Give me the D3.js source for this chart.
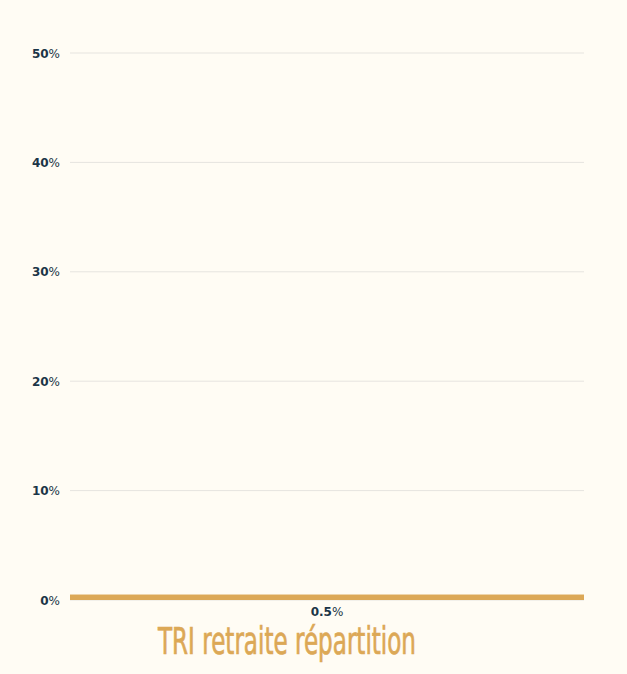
<!DOCTYPE html>
<html>
<head>
<meta charset="utf-8" />
<title>TRI retraite répartition</title>
<style>
html, body {
  margin: 0;
  padding: 0;
  background-color: #fffcf4;
}
svg {
  display: block;
}
</style>
<script src="https://d3js.org/d3.v7.min.js"></script>
</head>
<body>
<script>
// données
var categories = ["TRI retraite répartition"];
var values = [0.5];
var yTicks = [0, 10, 20, 30, 40, 50];

var width = 627, height = 674;
var margin = {top: 53, right: 43, bottom: 74, left: 70};

var svg = d3.select("body").append("svg")
  .attr("width", width)
  .attr("height", height);

var x = d3.scaleBand()
  .domain(categories)
  .range([margin.left, width - margin.right])
  .padding(0);

var y = d3.scaleLinear()
  .domain([0, 50])
  .range([height - margin.bottom, margin.top]);

// grille
svg.append("g")
  .selectAll("line")
  .data(yTicks)
  .join("line")
  .attr("x1", margin.left)
  .attr("x2", width - margin.right)
  .attr("y1", d => y(d))
  .attr("y2", d => y(d))
  .attr("stroke", "#e6e4df")
  .attr("stroke-width", 1);

// labels axe y
var yl = svg.append("g")
  .selectAll("text")
  .data(yTicks)
  .join("text")
  .attr("x", 60)
  .attr("y", d => y(d) + 4.5)
  .attr("text-anchor", "end")
  .attr("font-family", "DejaVu Sans, sans-serif")
  .attr("font-size", "12px")
  .attr("fill", "#1b3547");
yl.append("tspan").attr("font-weight", "bold").text(d => d);
yl.append("tspan").text("%");

// barres
svg.append("g")
  .selectAll("rect")
  .data(values)
  .join("rect")
  .attr("x", (d, i) => x(categories[i]))
  .attr("width", x.bandwidth())
  .attr("y", d => y(d))
  .attr("height", d => y(0) - y(d))
  .attr("fill", "#dca856");

// valeur
var vl = svg.append("g")
  .selectAll("text")
  .data(values)
  .join("text")
  .attr("x", (d, i) => x(categories[i]) + x.bandwidth() / 2)
  .attr("y", y(0) + 15.5)
  .attr("text-anchor", "middle")
  .attr("font-family", "DejaVu Sans, sans-serif")
  .attr("font-size", "12px")
  .attr("fill", "#1b3547");
vl.append("tspan").attr("font-weight", "bold").text(d => d);
vl.append("tspan").text("%");

// titre catégorie
svg.append("text")
  .attr("x", 158)
  .attr("y", 654)
  .attr("textLength", 258)
  .attr("lengthAdjust", "spacingAndGlyphs")
  .attr("font-family", "DejaVu Sans Condensed, DejaVu Sans, sans-serif")
  .attr("font-size", "37px")
  .attr("fill", "#dca856")
  .attr("stroke", "#dca856")
  .attr("stroke-width", 0.7)
  .text(categories[0]);
</script>
</body>
</html>
